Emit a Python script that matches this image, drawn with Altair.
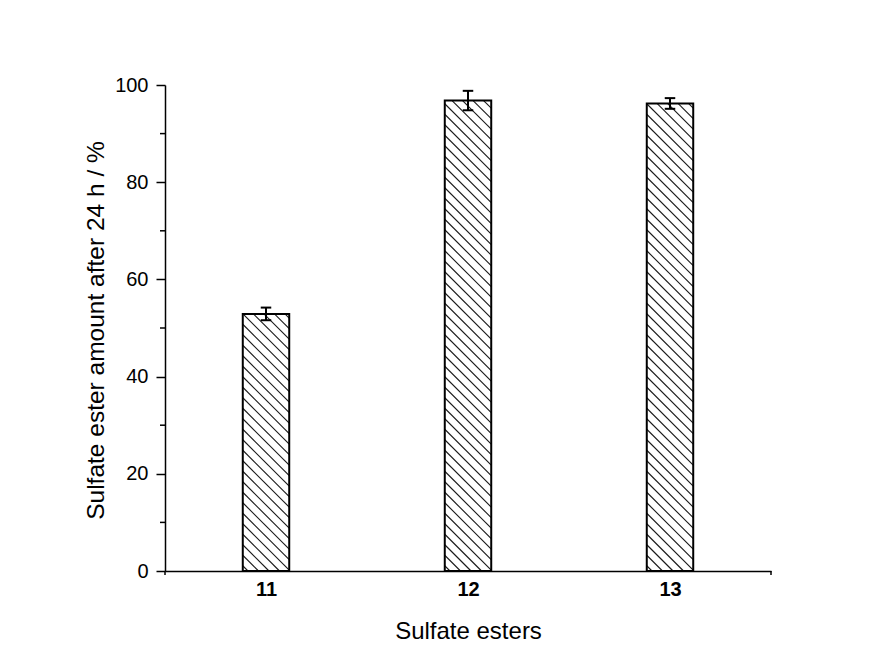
import altair as alt
import pandas as pd
import numpy as np

# ---- data ----
categories = [11, 12, 13]
values = [52.9, 96.8, 96.2]
errors = [1.3, 2.0, 1.1]
y_ticks = [0, 20, 40, 60, 80, 100]
y_minor = [10, 30, 50, 70, 90]

# ---- layout ----
W, H = 606, 486
XDOM = [10.5, 13.5]
YDOM = [0, 100]
BAR_HALF = 0.115         # half bar width in x units
CAP_HALF = 0.026
px_x = W / (XDOM[1] - XDOM[0])
px_y = H / (YDOM[1] - YDOM[0])

bars = pd.DataFrame({"cat": categories, "val": values, "err": errors})

# hatch lines ("\\" direction) clipped to each bar, derived from the bar values
hatch_rows = []
spacing = 10.5
for c, v in zip(categories, values):
    Wb = 2 * BAR_HALF * px_x
    T = v * px_y
    L = c - BAR_HALF
    k = spacing / 2
    while k < Wb + T:
        u0 = max(0.0, k - T)
        u1 = min(Wb, k)
        if u1 > u0:
            hatch_rows.append({
                "x": L + u0 / px_x, "y": (k - u0) / px_y,
                "x2": L + u1 / px_x, "y2": (k - u1) / px_y,
            })
        k += spacing
hatch = pd.DataFrame(hatch_rows)

FONT = "Liberation Sans"
xs = alt.Scale(domain=XDOM, nice=False, zero=False)
ys = alt.Scale(domain=YDOM, nice=False)

base = alt.Chart(bars)

fill = base.mark_rect(fill="white", stroke=None).encode(
    x=alt.X("x1:Q", scale=xs, axis=alt.Axis(
        values=categories, format="d", title="Sulfate esters",
        grid=False, ticks=False, domainColor="black", domainWidth=1.5,
        labelFont=FONT, labelFontSize=20, labelFontWeight="bold", labelColor="black",
        labelPadding=8, titleFont=FONT, titleFontSize=24, titleFontWeight="normal",
        titleColor="black", titleY=60, titleBaseline="middle")),
    x2="x2:Q",
    y=alt.Y("val:Q", scale=ys, axis=alt.Axis(
        values=y_ticks, title="Sulfate ester amount after 24 h / %",
        grid=False, tickSize=9, tickWidth=1.5, tickColor="black",
        domainColor="black", domainWidth=1.5,
        labelFont=FONT, labelFontSize=20, labelColor="black", labelPadding=8,
        titleFont=FONT, titleFontSize=24.5, titleFontWeight="normal", titleColor="black",
        titleX=-69, titleY=H / 2 + 2, titleBaseline="middle", titleAngle=-90)),
    y2=alt.datum(0),
).transform_calculate(x1=f"datum.cat - {BAR_HALF}", x2=f"datum.cat + {BAR_HALF}")

hatch_layer = alt.Chart(hatch).mark_rule(color="#1a1a1a", strokeWidth=1.1).encode(
    x=alt.X("x:Q", scale=xs), y=alt.Y("y:Q", scale=ys), x2="x2:Q", y2="y2:Q"
)

outline = base.mark_rect(fill=None, stroke="black", strokeWidth=2, filled=False).encode(
    x=alt.X("x1:Q", scale=xs), x2="x2:Q",
    y=alt.Y("val:Q", scale=ys), y2=alt.datum(0),
).transform_calculate(x1=f"datum.cat - {BAR_HALF}", x2=f"datum.cat + {BAR_HALF}")

err_line = base.mark_rule(color="black", strokeWidth=2).encode(
    x=alt.X("cat:Q", scale=xs), y=alt.Y("lo:Q", scale=ys), y2="hi:Q"
).transform_calculate(lo="datum.val - datum.err", hi="datum.val + datum.err")

cap_hi = base.mark_rule(color="black", strokeWidth=2).encode(
    x=alt.X("c1:Q", scale=xs), x2="c2:Q", y=alt.Y("hi:Q", scale=ys)
).transform_calculate(hi="datum.val + datum.err",
                      c1=f"datum.cat - {CAP_HALF}", c2=f"datum.cat + {CAP_HALF}")

cap_lo = base.mark_rule(color="black", strokeWidth=2).encode(
    x=alt.X("c1:Q", scale=xs), x2="c2:Q", y=alt.Y("lo:Q", scale=ys)
).transform_calculate(lo="datum.val - datum.err",
                      c1=f"datum.cat - {CAP_HALF}", c2=f"datum.cat + {CAP_HALF}")

minor = alt.Chart(pd.DataFrame({"m": y_minor})).mark_rule(color="black", strokeWidth=1.5).encode(
    y=alt.Y("m:Q", scale=ys), x=alt.value(-5), x2=alt.value(0)
)

ends = alt.Chart(pd.DataFrame({"e": XDOM})).mark_rule(color="black", strokeWidth=1.5).encode(
    x=alt.X("e:Q", scale=xs), y=alt.value(H), y2=alt.value(H + 4)
)

chart = alt.layer(fill, hatch_layer, outline, err_line, cap_hi, cap_lo, minor, ends).properties(
    width=W, height=H,
    autosize=alt.AutoSizeParams(type="none"),
    padding={"left": 157, "top": 77, "right": 90, "bottom": 80},
    background="white",
).configure_view(stroke=None)

chart.save("out.html", embed_options={"renderer": "svg", "actions": False})
